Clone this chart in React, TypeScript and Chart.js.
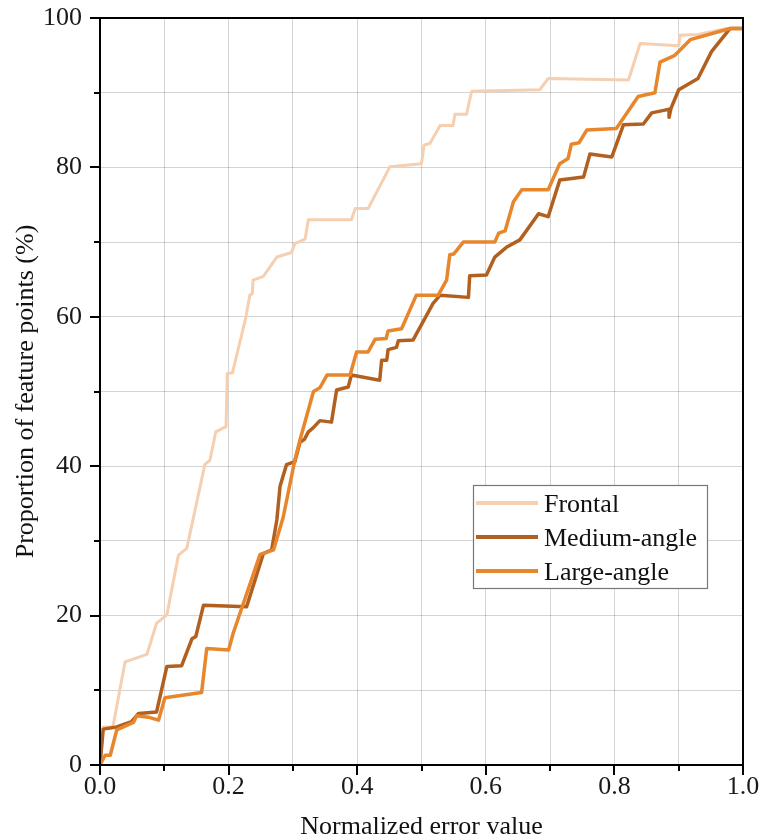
import React, { useEffect, useRef } from 'react';
import { Chart, registerables } from 'chart.js';

Chart.register(...registerables);

const seriesNames = ['Frontal', 'Medium-angle', 'Large-angle'];
const seriesColors = ['#f6cfb0', '#b2601f', '#e8862c'];

const frontalX = [0, 0.005, 0.02, 0.039, 0.073, 0.088, 0.104, 0.122, 0.135, 0.163, 0.171, 0.18, 0.196, 0.198, 0.206, 0.227, 0.233, 0.237, 0.238, 0.254, 0.275, 0.298, 0.303, 0.319, 0.324, 0.391, 0.397, 0.417, 0.451, 0.5, 0.504, 0.513, 0.529, 0.549, 0.552, 0.57, 0.578, 0.684, 0.697, 0.822, 0.84, 0.9, 0.902, 0.93, 0.975, 1.0];
const frontalY = [0, 5.1, 5.1, 13.8, 14.8, 19, 20.1, 28.1, 29, 40.2, 40.8, 44.6, 45.3, 52.4, 52.5, 60, 62.9, 63.1, 64.9, 65.4, 68, 68.6, 69.8, 70.4, 73, 73, 74.5, 74.5, 80.1, 80.5, 83, 83.2, 85.6, 85.6, 87.1, 87.1, 90.2, 90.4, 91.9, 91.7, 96.6, 96.3, 97.7, 97.8, 98.6, 98.6];

const mediumX = [0, 0.005, 0.026, 0.049, 0.06, 0.088, 0.104, 0.127, 0.143, 0.149, 0.161, 0.228, 0.254, 0.267, 0.275, 0.28, 0.29, 0.303, 0.311, 0.318, 0.324, 0.331, 0.342, 0.36, 0.368, 0.386, 0.391, 0.435, 0.438, 0.446, 0.448, 0.461, 0.464, 0.487, 0.518, 0.529, 0.573, 0.575, 0.601, 0.614, 0.632, 0.653, 0.682, 0.697, 0.715, 0.752, 0.762, 0.796, 0.814, 0.845, 0.858, 0.886, 0.885, 0.888, 0.9, 0.93, 0.951, 0.98, 1.0];
const mediumY = [0, 4.8, 5.1, 5.8, 6.9, 7.1, 13.2, 13.3, 16.9, 17.2, 21.4, 21.2, 28.3, 28.8, 32.8, 37.3, 40.2, 40.6, 43.2, 43.6, 44.6, 45.1, 46.1, 45.9, 50.2, 50.6, 52.2, 51.5, 54.2, 54.2, 55.6, 55.9, 56.8, 56.9, 61.8, 62.9, 62.6, 65.5, 65.6, 68, 69.3, 70.3, 73.8, 73.4, 78.3, 78.7, 81.8, 81.4, 85.7, 85.8, 87.3, 87.8, 86.7, 87.9, 90.4, 91.9, 95.5, 98.6, 98.6];

const largeX = [0, 0.008, 0.016, 0.026, 0.052, 0.057, 0.075, 0.091, 0.101, 0.158, 0.166, 0.2, 0.207, 0.249, 0.27, 0.285, 0.303, 0.311, 0.332, 0.342, 0.353, 0.389, 0.399, 0.417, 0.428, 0.445, 0.448, 0.469, 0.492, 0.526, 0.539, 0.544, 0.55, 0.565, 0.614, 0.62, 0.63, 0.643, 0.656, 0.697, 0.715, 0.728, 0.733, 0.745, 0.757, 0.803, 0.837, 0.863, 0.871, 0.894, 0.918, 0.98, 1.0];
const largeY = [0, 1.3, 1.3, 4.7, 5.7, 6.6, 6.4, 6.0, 9.0, 9.7, 15.6, 15.4, 17.6, 28.2, 28.8, 33.2, 40.8, 43.5, 50, 50.5, 52.2, 52.2, 55.3, 55.3, 57, 57.1, 58.1, 58.4, 62.9, 62.9, 64.9, 68.3, 68.4, 70, 70, 71.2, 71.5, 75.4, 77, 77, 80.5, 81.2, 83.1, 83.3, 85, 85.2, 89.5, 90, 94.1, 95, 97.1, 98.6, 98.6];

const xTicks = [0, 0.1, 0.2, 0.3, 0.4, 0.5, 0.6, 0.7, 0.8, 0.9, 1.0];
const yTicks = [0, 10, 20, 30, 40, 50, 60, 70, 80, 90, 100];
const xTitle = 'Normalized error value';
const yTitle = 'Proportion of feature points (%)';

const zip = (xs: number[], ys: number[]) => xs.map((x, i) => ({ x, y: ys[i] }));

const framePlugin = {
  id: 'frameAndDecor',
  afterDraw(chart: any) {
    const { ctx, chartArea } = chart;
    const { left, right, top, bottom } = chartArea;
    const xs = chart.scales.x;
    const ys = chart.scales.y;
    ctx.save();
    ctx.strokeStyle = '#000';
    ctx.lineWidth = 2;
    ctx.strokeRect(left, top, right - left, bottom - top);
    xTicks.forEach((v, i) => {
      const px = Math.round(xs.getPixelForValue(v));
      const len = i % 2 === 0 ? 10 : 6;
      ctx.beginPath();
      ctx.moveTo(px, bottom);
      ctx.lineTo(px, bottom + len);
      ctx.stroke();
    });
    yTicks.forEach((v, i) => {
      const py = Math.round(ys.getPixelForValue(v));
      const len = i % 2 === 0 ? 10 : 6;
      ctx.beginPath();
      ctx.moveTo(left, py);
      ctx.lineTo(left - len, py);
      ctx.stroke();
    });
    ctx.fillStyle = '#111';
    ctx.font = '26px "Liberation Serif"';
    ctx.textAlign = 'center';
    ctx.textBaseline = 'alphabetic';
    ctx.fillText(xTitle, (left + right) / 2, 834);
    ctx.save();
    ctx.translate(33, (top + bottom) / 2);
    ctx.rotate(-Math.PI / 2);
    ctx.fillText(yTitle, 0, 0);
    ctx.restore();
    const lx = 473;
    const ly = 485;
    const lw = 234;
    const lh = 103;
    ctx.fillStyle = '#fff';
    ctx.fillRect(lx, ly, lw, lh);
    ctx.strokeStyle = '#777';
    ctx.lineWidth = 1.2;
    ctx.strokeRect(lx + 0.5, ly + 0.5, lw, lh);
    const rows = [503, 537, 571];
    seriesNames.forEach((name, i) => {
      ctx.strokeStyle = seriesColors[i];
      ctx.lineWidth = 4;
      ctx.beginPath();
      ctx.moveTo(476, rows[i]);
      ctx.lineTo(538, rows[i]);
      ctx.stroke();
      ctx.fillStyle = '#111';
      ctx.font = '26px "Liberation Serif"';
      ctx.textAlign = 'left';
      ctx.textBaseline = 'alphabetic';
      ctx.fillText(name, 544, rows[i] + 9);
    });
    ctx.restore();
  },
};

export default function App() {
  const canvasRef = useRef<HTMLCanvasElement | null>(null);
  useEffect(() => {
    document.body.style.margin = '0';
    const canvas = canvasRef.current;
    if (!canvas) return;
    const mk = (i: number, xs: number[], ys: number[], w: number, order: number) => ({
      label: seriesNames[i],
      data: zip(xs, ys),
      borderColor: seriesColors[i],
      borderWidth: w,
      pointRadius: 0,
      tension: 0,
      order,
      borderJoinStyle: 'round',
    });
    const chart = new Chart(canvas, {
      type: 'line',
      data: {
        datasets: [
          mk(0, frontalX, frontalY, 3, 2),
          mk(1, mediumX, mediumY, 3.5, 1),
          mk(2, largeX, largeY, 3.5, 0),
        ],
      },
      options: {
        responsive: false,
        maintainAspectRatio: false,
        animation: false,
        layout: { padding: { top: 18, right: 20, left: 0, bottom: 0 } },
        plugins: { legend: { display: false }, tooltip: { enabled: false } },
        scales: {
          x: {
            type: 'linear',
            min: 0,
            max: 1,
            afterFit: (s: any) => { s.height = 74; s.paddingLeft = 0; s.paddingRight = 0; },
            afterBuildTicks: (s: any) => { s.ticks = xTicks.map((v) => ({ value: v })); },
            ticks: {
              callback: (v: any) => {
                const n = Math.round(Number(v) * 10);
                return n % 2 === 0 ? (n / 10).toFixed(1) : '';
              },
              font: { family: 'Liberation Serif', size: 26 },
              color: '#1a1a1a',
              padding: 7,
              maxRotation: 0,
              autoSkip: false,
            },
            grid: { color: 'rgba(0,0,0,0.17)', lineWidth: 1, drawTicks: false },
            border: { display: false },
          },
          y: {
            type: 'linear',
            min: 0,
            max: 100,
            afterFit: (s: any) => { s.width = 100; s.paddingTop = 0; s.paddingBottom = 0; },
            afterBuildTicks: (s: any) => { s.ticks = yTicks.map((v) => ({ value: v })); },
            ticks: {
              callback: (v: any) => (Math.round(Number(v)) % 20 === 0 ? String(Math.round(Number(v))) : ''),
              font: { family: 'Liberation Serif', size: 26 },
              color: '#1a1a1a',
              padding: 18,
              autoSkip: false,
            },
            grid: { color: 'rgba(0,0,0,0.17)', lineWidth: 1, drawTicks: false },
            border: { display: false },
          },
        },
      },
      plugins: [framePlugin],
    } as any);
    return () => chart.destroy();
  }, []);
  return (
    <div style={{ position: 'absolute', left: 0, top: 0, width: 763, height: 839 }}>
      <canvas ref={canvasRef} width={763} height={839} style={{ display: 'block' }} />
    </div>
  );
}
